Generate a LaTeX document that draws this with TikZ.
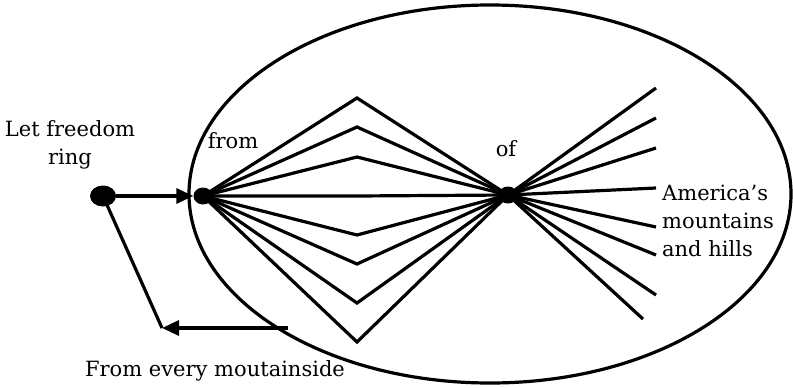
\documentclass[tikz,border=0pt]{standalone}
\usepackage{fontspec}
\setmainfont{DejaVu Serif}
\usetikzlibrary{arrows.meta,shapes.geometric}
\tikzset{dot/.style={ellipse,fill=black,inner sep=0pt,minimum width=26pt,minimum height=21pt},
  smalldot/.style={ellipse,fill=black,inner sep=0pt,minimum width=19pt,minimum height=17pt},
  lbl/.style={font=\fontsize{21}{28}\selectfont,align=center,inner sep=0pt},
  ln/.style={line width=3.2pt},
  arr/.style={ln,-{Triangle[length=17pt,width=15pt]}}}
\begin{document}
\begin{tikzpicture}[x=1pt,y=-1pt]
\useasboundingbox (0,0) rectangle (793,388);
\draw[ln] (490,194) ellipse [x radius=301,y radius=189];
\node[dot] (let) at (103,196) {};
\node[smalldot] (from) at (203,196) {};
\node[smalldot] (of) at (508,195) {};
\node[lbl] (letl) at (70,145) {Let freedom\\ring};
\node[lbl] (froml) at (233,141) {from};
\node[lbl] (ofl) at (506,149) {of};
\node[lbl,align=left,anchor=west] (am) at (662,221) {America’s\\mountains\\and hills};
\node[lbl] (every) at (215,371) {From every moutainside};
\coordinate (corner) at (162,328);
\coordinate (tail) at (288,328);
\draw[arr] (let) -- (from.west);
\draw[ln] (let.center) -- (corner);
\draw[arr] (tail) -- (corner);
\foreach \y [count=\i] in {98,127,157,196,235,264,303,342}{
  \coordinate (p\i) at (357,\y);
  \draw[ln,line join=miter] (from.center) -- (p\i) -- (of.center);}
\foreach \x/\y [count=\i] in {656/88,656/118,656/148,656/188,656/227,656/255,656/295,643/319}{
  \coordinate (r\i) at (\x,\y);
  \draw[ln] (of.center) -- (r\i);}
\end{tikzpicture}
\end{document}
